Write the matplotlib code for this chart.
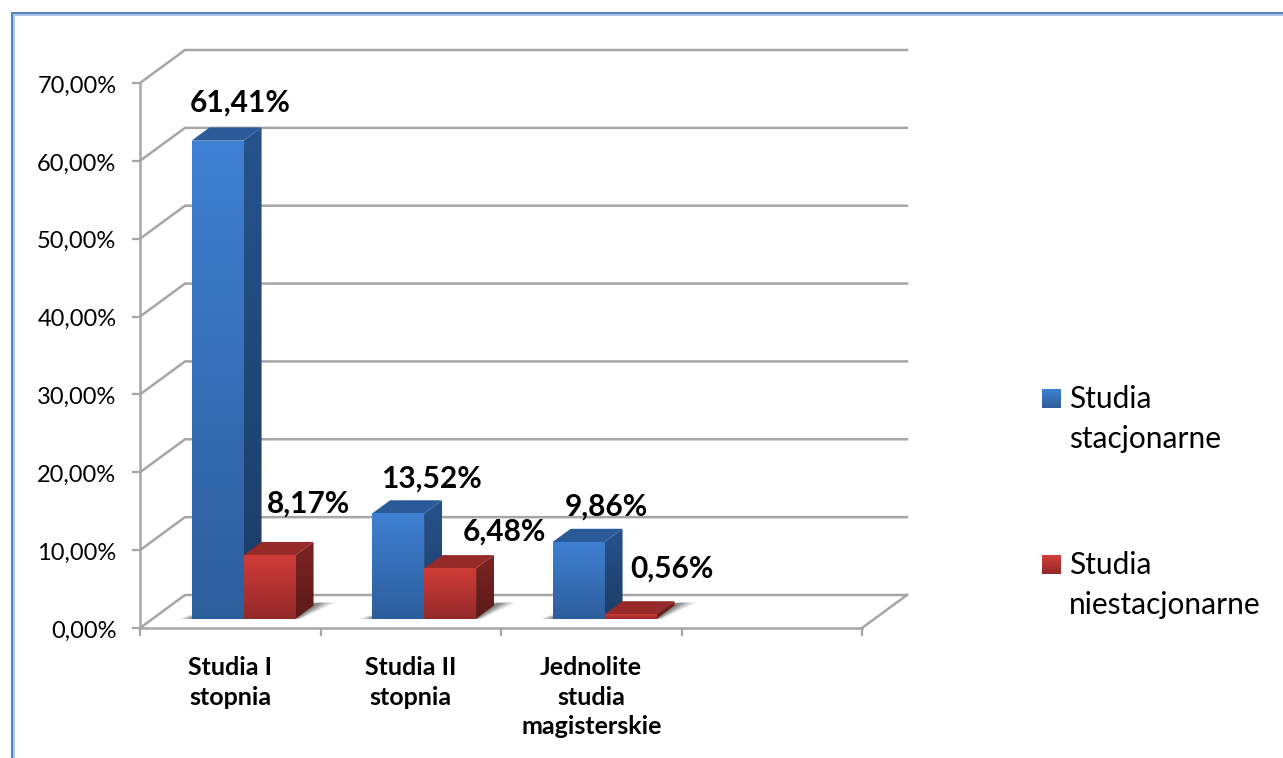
import numpy as np
import matplotlib
matplotlib.use("Agg")
import matplotlib.pyplot as plt
from matplotlib.colors import LinearSegmentedColormap
from matplotlib.lines import Line2D
from matplotlib.patches import Patch, Polygon, Rectangle
from matplotlib.legend_handler import HandlerPatch
from matplotlib.transforms import ScaledTranslation

plt.rcParams["font.family"] = ["Lato", "DejaVu Sans"]

categories = ["Studia I\nstopnia", "Studia II\nstopnia", "Jednolite\nstudia\nmagisterskie"]
series_names = ["Studia\nstacjonarne", "Studia\nniestacjonarne"]
stacjonarne = [61.41, 13.52, 9.86]
niestacjonarne = [8.17, 6.48, 0.56]
blue_labels = ["61,41%", "13,52%", "9,86%"]
red_labels = ["8,17%", "6,48%", "0,56%"]
y_ticks = [0, 10, 20, 30, 40, 50, 60, 70]
y_labels = ["0,00%", "10,00%", "20,00%", "30,00%", "40,00%", "50,00%", "60,00%", "70,00%"]

W, H = 1283, 758
GRID = "#a6a6a6"

# kolory: przod (gora, dol), bok (gora, dol), gora
BLUE = dict(front=("#3e80d2", "#2d5e9c"), side=("#26538c", "#1c3c66"), top="#2b5a98")
RED = dict(front=("#d03c38", "#94292a"), side=("#7c2422", "#5c1a19"), top="#962a28")

# skos 3D w jednostkach danych
DEPTH_X = 45 / 180.5
DEPTH_Y = 33 / 7.786
D0, D1 = 0.28, 0.68
BAR_W = 0.288
BAR_X0 = 0.216


def proj(x, y, d):
    return x + d * DEPTH_X, y + d * DEPTH_Y


def grad_poly(ax, pts, c_top, c_bottom, z):
    pts = np.array(pts)
    cmap = LinearSegmentedColormap.from_list("g", [c_top, c_bottom])
    grad = np.linspace(0, 1, 128).reshape(-1, 1)
    extent = (pts[:, 0].min(), pts[:, 0].max(), pts[:, 1].min(), pts[:, 1].max())
    im = ax.imshow(grad, cmap=cmap, extent=extent, aspect="auto", origin="upper",
                   zorder=z, interpolation="bilinear")
    im.set_clip_path(Polygon(pts, closed=True, transform=ax.transData))


def draw_shadow(ax, x0, x1, z):
    # miekki cien na podlodze
    for grow, alpha in [(1.0, 0.10), (0.8, 0.14), (0.6, 0.18), (0.4, 0.22), (0.2, 0.26)]:
        pts = [
            proj(x0 - 0.075 * grow, 0, D0),
            proj(x1 + 0.03 * grow, 0, D0),
            proj(x1 + 0.1 * grow, 0, D0 + 0.5),
            proj(x0 + 0.03, 0, D0 + 0.3),
        ]
        ax.add_patch(Polygon(pts, closed=True, fc="#444444", ec="none", alpha=alpha, zorder=z))


def draw_bar(ax, x, v, st, z):
    x2 = x + BAR_W
    front = [proj(x, 0, D0), proj(x2, 0, D0), proj(x2, v, D0), proj(x, v, D0)]
    side = [proj(x2, 0, D0), proj(x2, 0, D1), proj(x2, v, D1), proj(x2, v, D0)]
    top = [proj(x, v, D0), proj(x2, v, D0), proj(x2, v, D1), proj(x, v, D1)]
    grad_poly(ax, side, st["side"][0], st["side"][1], z)
    ax.add_patch(Polygon(top, closed=True, fc=st["top"], ec="none", zorder=z))
    grad_poly(ax, front, st["front"][0], st["front"][1], z + 0.1)


class GradHandler(HandlerPatch):
    def __init__(self, colors, **kw):
        super().__init__(**kw)
        self.colors = colors

    def create_artists(self, legend, orig, xdescent, ydescent, width, height, fontsize, trans):
        cmap = LinearSegmentedColormap.from_list("g", self.colors)
        n = 14
        size = 13.5
        base = 16.0
        out = []
        for i in range(n):
            out.append(Rectangle((width - size, base + size * (n - 1 - i) / n), size, size / n + 0.2,
                                 fc=cmap(i / (n - 1)), ec="none", transform=trans))
        return out


fig = plt.figure(figsize=(W / 100, H / 100), dpi=100, facecolor="white")
ax = fig.add_axes([140 / W, (H - 628) / H, 722 / W, 545 / H])
ax.patch.set_alpha(0)

n_slots = 4
ax.set_xticks(range(n_slots + 1))
ax.set_xticklabels([])
ax.set_xticks(np.arange(len(categories)) + 0.5, minor=True)
ax.set_xticklabels(categories, minor=True, fontsize=18, fontweight="bold", linespacing=1.36,
                   va="top")
ax.set_yticks(y_ticks)
ax.set_yticklabels(y_labels, fontsize=17)
ax.tick_params(axis="both", which="major", length=6, width=1.6, color=GRID)
ax.tick_params(axis="y", pad=11, labelcolor="black")
ax.tick_params(axis="x", which="minor", length=0, pad=20)
shift_down = ScaledTranslation(0, -1 / 100, fig.dpi_scale_trans)
for t in ax.get_yticklabels():
    t.set_transform(t.get_transform() + shift_down)
for s in ["top", "right"]:
    ax.spines[s].set_visible(False)
for s in ["left", "bottom"]:
    ax.spines[s].set_color(GRID)
    ax.spines[s].set_linewidth(1.8)

# sciany wykresu
for v in y_ticks:
    xa, ya = proj(0, v, 1)
    xb, yb = proj(n_slots, v, 1)
    ax.plot([0, xa, xb], [v, ya, yb], color=GRID, lw=1.8, clip_on=False, zorder=1,
            solid_joinstyle="miter")
xa, ya = proj(n_slots, 0, 1)
ax.plot([n_slots, xa], [0, ya], color=GRID, lw=1.8, clip_on=False, zorder=1)

for i in range(len(categories)):
    x = i + BAR_X0
    draw_shadow(ax, x, x + 2 * BAR_W, 2)
    draw_bar(ax, x, stacjonarne[i], BLUE, 3 + i)
    draw_bar(ax, x + BAR_W, niestacjonarne[i], RED, 3.5 + i)

ax.set_xlim(0, n_slots)
ax.set_ylim(0, 70)

# etykiety danych
blue_off = [(23, 38), (33, 35), (28, 35)]
red_off = [(39, 52), (54, 37), (41, 46)]
for i in range(len(categories)):
    cx, cy = proj(i + BAR_X0 + BAR_W / 2, stacjonarne[i], D0)
    ax.annotate(blue_labels[i], (cx, cy), xytext=blue_off[i], textcoords="offset pixels",
                ha="center", va="center", fontsize=21.5, fontweight="bold", zorder=10,
                annotation_clip=False)
    cx, cy = proj(i + BAR_X0 + 1.5 * BAR_W, niestacjonarne[i], D0)
    ax.annotate(red_labels[i], (cx, cy), xytext=red_off[i], textcoords="offset pixels",
                ha="center", va="center", fontsize=21.5, fontweight="bold", zorder=10,
                annotation_clip=False)

# legenda
h_blue = Patch(label=series_names[0])
h_red = Patch(label=series_names[1])
leg = fig.legend(handles=[h_blue, h_red], loc="center left",
                 bbox_to_anchor=(1031 / W, (H - 502) / H), frameon=False, fontsize=21.5,
                 handlelength=1.0, handletextpad=0.28, labelspacing=3.28, borderpad=0,
                 borderaxespad=0,
                 handler_map={h_blue: GradHandler(BLUE["front"]), h_red: GradHandler(RED["front"])})
for t in leg.get_texts():
    t.set_linespacing(1.54)

# ramka
for off, col in [(1.5, "#a9c3e2"), (0, "#4f81bd")]:
    fig.add_artist(Line2D([(12 + off) / W, (12 + off) / W, 1], [0, (H - 13 - off) / H, (H - 13 - off) / H],
                          color=col, lw=1.4, transform=fig.transFigure, solid_joinstyle="miter"))

fig.savefig("out.png", dpi=100)
